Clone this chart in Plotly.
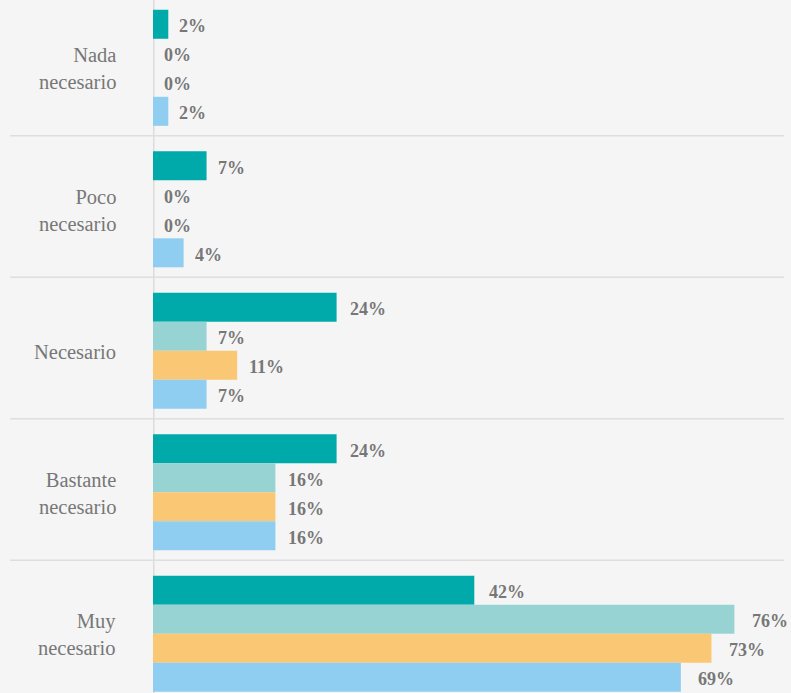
import plotly.graph_objects as go

# Survey answers (share of respondents, %) per group
categories = ["Nada<br>necesario", "Poco<br>necesario", "Necesario",
              "Bastante<br>necesario", "Muy<br>necesario"]
series_a = [2, 7, 24, 24, 42]
series_b = [0, 0, 7, 16, 76]
series_c = [0, 0, 11, 16, 73]
series_d = [2, 4, 7, 16, 69]

series = [series_a, series_b, series_c, series_d]
colors = ["#00AAAA", "#97D3D3", "#FAC775", "#90CEF1"]

BG = "#F5F5F5"
TEXT = "#777777"
SERIF = "Liberation Serif, Times New Roman, serif"

idx = list(range(len(categories)))
bargap = 0.18
n = len(series)
slot = (1 - bargap) / n

fig = go.Figure()
for s, vals in enumerate(series):
    fig.add_trace(go.Bar(
        x=vals, y=idx, orientation="h",
        marker=dict(color=colors[s], line=dict(width=0)),
        hoverinfo="x", showlegend=False,
    ))

annotations = []

# value labels placed just to the right of each bar
for s, vals in enumerate(series):
    off = (s - (n - 1) / 2) * slot
    for i, v in enumerate(vals):
        annotations.append(dict(
            x=v, y=i + off, xref="x", yref="y",
            text=f"{v}%", showarrow=False,
            xanchor="left", yanchor="middle",
            xshift=9 + 0.09 * v, yshift=-2,
            font=dict(family=SERIF, size=18, color=TEXT, weight="bold"),
        ))

# category names, right-aligned left of the baseline
for i, name in enumerate(categories):
    annotations.append(dict(
        x=0, y=i, xref="paper", yref="y",
        text=name, showarrow=False, align="right",
        xanchor="right", yanchor="middle",
        xshift=-35, yshift=-1,
        font=dict(family=SERIF, size=20.5, color=TEXT),
    ))

# horizontal separators between categories, and the baseline at zero
shapes = []
for k in range(len(categories) - 1):
    y = k + 0.48
    shapes.append(dict(type="line", xref="paper", yref="y",
                       x0=-0.224, x1=0.989, y0=y, y1=y,
                       line=dict(color="#DEDEDE", width=1.5), layer="below"))
shapes.append(dict(type="line", xref="x", yref="paper",
                   x0=0, x1=0, y0=0, y1=1,
                   line=dict(color="#DCDCDC", width=3), layer="below"))

fig.update_layout(
    width=791, height=693,
    margin=dict(l=153, r=0, t=0, b=0),
    paper_bgcolor=BG, plot_bgcolor=BG,
    barmode="group", bargap=bargap, bargroupgap=0,
    annotations=annotations, shapes=shapes,
    xaxis=dict(range=[0, 83.4], showgrid=False, zeroline=False,
               showticklabels=False, showline=False, fixedrange=True),
    yaxis=dict(range=[4.418, -0.479], tickvals=idx, showticklabels=False,
               showgrid=False, zeroline=False, showline=False, ticks=""),
)

fig.write_html("out.html")
